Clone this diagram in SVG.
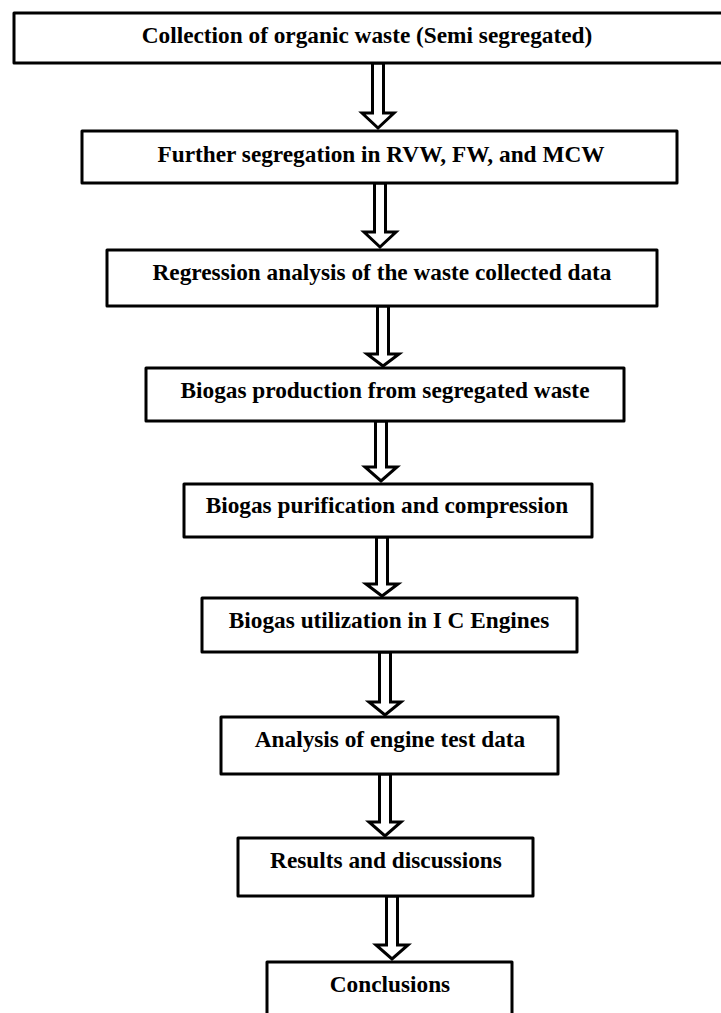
<svg xmlns="http://www.w3.org/2000/svg" width="721" height="1013" viewBox="0 0 721 1013">
<style>
.box{fill:#fff;stroke:#000;stroke-width:3;stroke-linejoin:round}
.arr{fill:#fff;stroke:#000;stroke-width:3;stroke-linejoin:miter}
.t{font-family:"Liberation Serif","Times New Roman",serif;font-weight:bold;font-size:23.3px;fill:#000;text-anchor:middle}
</style>
<rect width="721" height="1013" fill="#fff"/>
<g id="connectors">
<path class="arr" d="M372.5,63 V113 H362 L378,128 L394,113 H383.5 V63 Z"/>
<path class="arr" d="M374.5,183 V232 H364 L380,247 L396,232 H385.5 V183 Z"/>
<path class="arr" d="M377.5,306 V354 H367 L383,366 L399,354 H388.5 V306 Z"/>
<path class="arr" d="M375.5,421 V467 H365 L381,481 L397,467 H386.5 V421 Z"/>
<path class="arr" d="M376.5,537 V584 H366 L382,596 L398,584 H387.5 V537 Z"/>
<path class="arr" d="M379.5,652 V702 H369 L385,715 L401,702 H390.5 V652 Z"/>
<path class="arr" d="M379.5,774 V822 H369 L385,836 L401,822 H390.5 V774 Z"/>
<path class="arr" d="M386.5,896 V945 H376 L392,959 L408,945 H397.5 V896 Z"/>
</g>
<g id="n1"><rect class="box" x="14" y="13" width="712" height="50"/><text class="t" x="367" y="43">Collection of organic waste (Semi segregated)</text></g>
<g id="n2"><rect class="box" x="82" y="131" width="595" height="52"/><text class="t" x="381" y="162">Further segregation in RVW, FW, and MCW</text></g>
<g id="n3"><rect class="box" x="107" y="250" width="550" height="56"/><text class="t" x="382" y="280">Regression analysis of the waste collected data</text></g>
<g id="n4"><rect class="box" x="146" y="368" width="478" height="53"/><text class="t" x="385" y="398">Biogas production from segregated waste</text></g>
<g id="n5"><rect class="box" x="184" y="484" width="408" height="53"/><text class="t" x="387" y="513">Biogas purification and compression</text></g>
<g id="n6"><rect class="box" x="202" y="598" width="375" height="54"/><text class="t" x="389" y="628">Biogas utilization in I C Engines</text></g>
<g id="n7"><rect class="box" x="221" y="717" width="337" height="57"/><text class="t" x="390" y="747">Analysis of engine test data</text></g>
<g id="n8"><rect class="box" x="238" y="838" width="295" height="58"/><text class="t" x="386" y="868">Results and discussions</text></g>
<g id="n9"><rect class="box" x="267" y="962" width="245" height="60"/><text class="t" x="390" y="992">Conclusions</text></g>
</svg>
